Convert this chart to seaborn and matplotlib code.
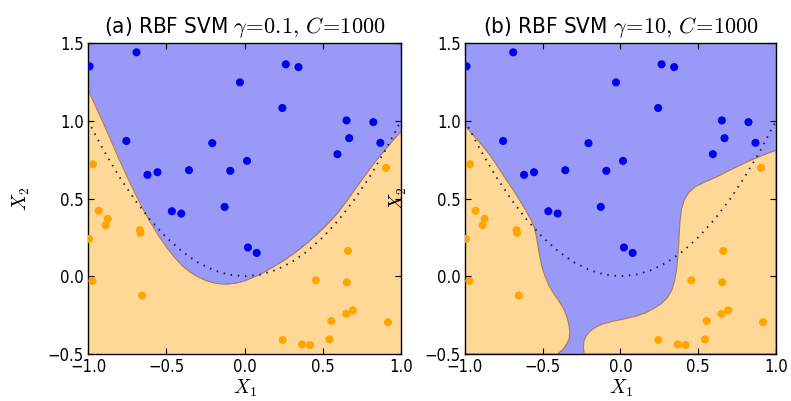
import matplotlib
matplotlib.use("Agg")
import matplotlib.pyplot as plt
import seaborn as sns
import pandas as pd

# ---- data ----
blue_x = [-0.99, -0.69, -0.755, -0.62, -0.556, -0.355, -0.206, -0.091, 0.016, -0.029,
          0.264, 0.345, 0.242, 0.594, 0.652, 0.669, 0.823, 0.868,
          -0.464, -0.404, -0.127, 0.022, 0.078]
blue_y = [1.35, 1.44, 0.87, 0.652, 0.669, 0.682, 0.856, 0.678, 0.742, 1.247,
          1.363, 1.345, 1.082, 0.785, 1.002, 0.888, 0.991, 0.858,
          0.418, 0.403, 0.446, 0.185, 0.150]
orange_x = [-0.968, 0.904, -0.932, -0.874, -0.887, -0.994, -0.669, -0.665, -0.972, -0.654,
            0.456, 0.661, 0.654, 0.693, 0.650, 0.554, 0.917, 0.244, 0.368, 0.419, 0.543]
orange_y = [0.72, 0.697, 0.421, 0.369, 0.328, 0.240, 0.296, 0.279, -0.030, -0.124,
            -0.026, 0.163, -0.039, -0.219, -0.242, -0.288, -0.296, -0.410, -0.438, -0.442, -0.406]

# true boundary (dotted)
true_x = [-1.0, -0.9, -0.8, -0.7, -0.6, -0.5, -0.4, -0.3, -0.2, -0.1, 0.0,
          0.1, 0.2, 0.3, 0.4, 0.5, 0.6, 0.7, 0.8, 0.9, 1.0]
true_y = [1.0, 0.81, 0.64, 0.49, 0.36, 0.25, 0.16, 0.09, 0.04, 0.01, 0.0,
          0.01, 0.04, 0.09, 0.16, 0.25, 0.36, 0.49, 0.64, 0.81, 1.0]

# panel (a) decision boundary
a_bx = [-1.0, -0.95, -0.9, -0.85, -0.8, -0.75, -0.7, -0.65, -0.6, -0.55, -0.5,
        -0.45, -0.4, -0.35, -0.3, -0.25, -0.2, -0.15, -0.1, -0.05, 0.0,
        0.05, 0.1, 0.15, 0.2, 0.25, 0.3, 0.35, 0.4, 0.45, 0.5,
        0.55, 0.6, 0.65, 0.7, 0.75, 0.8, 0.85, 0.9, 0.95, 1.0]
a_by = [1.20, 1.09, 0.98, 0.865, 0.75, 0.64, 0.535, 0.435, 0.345, 0.262, 0.19,
        0.125, 0.07, 0.028, -0.003, -0.026, -0.042, -0.05, -0.05, -0.044, -0.03,
        -0.01, 0.012, 0.04, 0.07, 0.10, 0.135, 0.172, 0.213, 0.258, 0.305,
        0.356, 0.412, 0.48, 0.55, 0.62, 0.69, 0.755, 0.815, 0.875, 0.93]

# panel (b) orange regions (polygon outlines)
b_left_x = [-1.0, -1.0, -0.975, -0.947, -0.9, -0.84, -0.79, -0.734, -0.69, -0.649,
            -0.61, -0.574, -0.553, -0.54, -0.53, -0.52, -0.505, -0.485, -0.46, -0.43,
            -0.395, -0.365, -0.345, -0.332, -0.326, -0.33, -0.345, -0.37, -0.404]
b_left_y = [-0.5, 0.965, 0.94, 0.908, 0.855, 0.78, 0.705, 0.62, 0.555, 0.49,
            0.425, 0.36, 0.31, 0.25, 0.19, 0.13, 0.06, 0.0, -0.06, -0.11,
            -0.16, -0.21, -0.26, -0.31, -0.36, -0.40, -0.435, -0.47, -0.5]
b_right_x = [-0.234, -0.238, -0.236, -0.222, -0.195, -0.16, -0.11, -0.05, 0.02, 0.1,
             0.16, 0.21, 0.26, 0.30, 0.33, 0.348, 0.36, 0.368, 0.374, 0.378,
             0.383, 0.392, 0.41, 0.44, 0.48, 0.54, 0.61, 0.69, 0.77, 0.84,
             0.92, 1.0, 1.0]
b_right_y = [-0.5, -0.46, -0.42, -0.385, -0.352, -0.328, -0.305, -0.29, -0.275, -0.257,
             -0.235, -0.21, -0.178, -0.14, -0.09, -0.03, 0.04, 0.12, 0.2, 0.28,
             0.36, 0.43, 0.49, 0.54, 0.575, 0.605, 0.635, 0.675, 0.715, 0.747,
             0.78, 0.81, -0.5]

titles = [r"(a) RBF SVM $\gamma\!=\!0.1,\, C\!=\!1000$",
          r"(b) RBF SVM $\gamma\!=\!10,\, C\!=\!1000$"]
xticks = [-1.0, -0.5, 0.0, 0.5, 1.0]
yticks = [-0.5, 0.0, 0.5, 1.0, 1.5]

BLUE_FILL = "#9999f7"
ORANGE_FILL = "#ffd898"
EDGE = "#a87a55"

plt.rcParams["mathtext.fontset"] = "cm"
plt.rcParams["font.family"] = ["DejaVu Sans"]
plt.rcParams["font.stretch"] = "condensed"

pts = pd.DataFrame({
    "x": blue_x + orange_x,
    "y": blue_y + orange_y,
    "cls": ["b"] * len(blue_x) + ["o"] * len(orange_x),
})

fig = plt.figure(figsize=(7.91, 4.01), dpi=100)
ax_a = fig.add_axes([88 / 791, 47 / 401, 313 / 791, 311 / 401])
ax_b = fig.add_axes([465 / 791, 47 / 401, 311 / 791, 311 / 401])

# panel a regions
ax_a.fill_between(a_bx, a_by, 1.5, color=BLUE_FILL, lw=0, zorder=0)
ax_a.fill_between(a_bx, -0.5, a_by, color=ORANGE_FILL, lw=0, zorder=0)
ax_a.plot(a_bx, a_by, color=EDGE, lw=0.8, zorder=1)

# panel b regions
ax_b.set_facecolor(BLUE_FILL)
ax_b.fill(b_left_x, b_left_y, facecolor=ORANGE_FILL, edgecolor=EDGE, lw=0.8, zorder=0)
ax_b.fill(b_right_x, b_right_y, facecolor=ORANGE_FILL, edgecolor=EDGE, lw=0.8, zorder=0)

for ax, title in zip([ax_a, ax_b], titles):
    ax.plot(true_x, true_y, color="#111133", lw=1.3, linestyle=(0, (0.8, 3.2)), zorder=2)
    sns.scatterplot(data=pts, x="x", y="y", hue="cls",
                    palette={"b": "#0000ee", "o": "#ffa500"},
                    s=34, edgecolor="none", legend=False, ax=ax, zorder=3)
    ax.set_xlim(-1.0, 1.0)
    ax.set_ylim(-0.5, 1.5)
    ax.set_xticks(xticks)
    ax.set_yticks(yticks)
    ax.set_xticklabels([f"{v:.1f}".replace("-", "\u2212") for v in xticks])
    ax.set_yticklabels([f"{v:.1f}".replace("-", "\u2212") for v in yticks])
    ax.tick_params(direction="in", top=True, right=True, length=4, width=0.8,
                   labelsize=12, pad=3)
    ax.set_xlabel(r"$X_1$", fontsize=14, labelpad=1)
    ax.set_ylabel(r"$X_2$", fontsize=14, labelpad=11)
    ax.set_title(title, fontsize=16, pad=7)
    for sp in ax.spines.values():
        sp.set_linewidth(1.0)
        sp.set_color("black")

fig.savefig("out.png", dpi=100)
